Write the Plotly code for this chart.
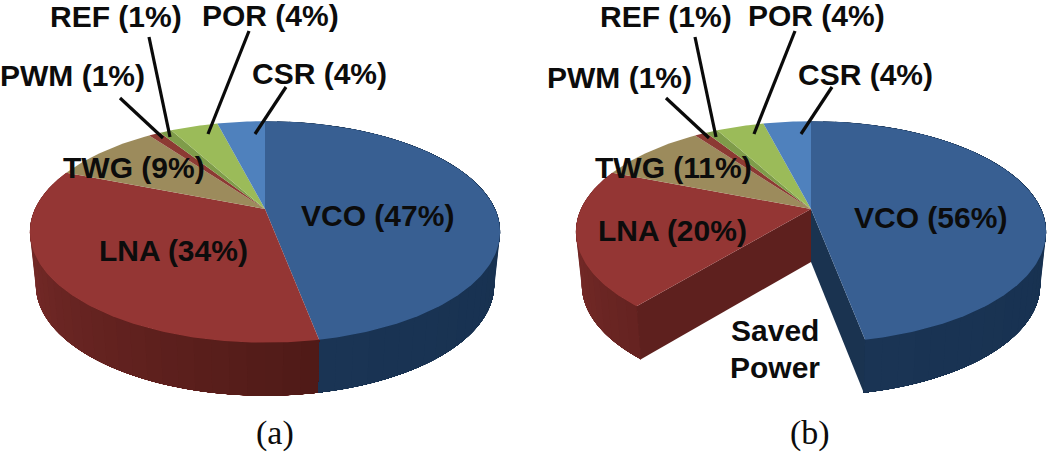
import numpy as np
import plotly.graph_objects as go

# ---- data ----
segments = ["VCO", "LNA", "TWG", "PWM", "REF", "POR", "CSR"]
labels_a = [47, 34, 9, 1, 1, 4, 4]      # printed percentages, panel (a)
labels_b = [56, 20, 11, 1, 1, 4, 4]     # printed percentages, panel (b)
arc_a = [47, 34, 9, 1, 1, 4, 4]         # arc drawn per segment, panel (a)
arc_b = [47, 20, 9, 1, 1, 4, 4]         # arc drawn per segment, panel (b)
saved_b = 14                            # empty wedge after VCO, panel (b)

# ---- style ----
top_colors = ["#385f92", "#943634", "#9c8b5c", "#8c3a33", "#7f9c4a", "#9bbb59", "#4f81bd"]
side_ranges = {"VCO": ("#16304f", "#1a3454"), "LNA": ("#4f1a17", "#7b2c2a")}

CY, SX, SY, K = 209.0, 230.0, 106.0, 0.207
DEPTH, BOTTOM_SX = 53.0, 0.975


def project(cx, pct, bottom=False):
    th = np.radians(np.asarray(pct, float) * 3.6)
    u, v = np.sin(th), np.cos(th)
    w = 1 + K * v
    X, Y = SX * u / w, -SY * v / w
    if bottom:
        return cx + BOTTOM_SX * X, CY + DEPTH + Y
    return cx + X, CY + Y


def hexmix(c0, c1, t):
    a = [int(c0[i:i + 2], 16) for i in (1, 3, 5)]
    b = [int(c1[i:i + 2], 16) for i in (1, 3, 5)]
    return "#%02x%02x%02x" % tuple(round(p + (q - p) * t) for p, q in zip(a, b))


fig = go.Figure()


def poly(xs, ys, color):
    fig.add_trace(go.Scatter(x=list(xs), y=list(ys), mode="lines", fill="toself",
                             fillcolor=color, line=dict(color=color, width=0),
                             hoverinfo="skip", showlegend=False))


def draw_pie(cx, arcs, gap):
    # (start, end) in percent around the pie for every segment
    spans, pos = [], 0.0
    for i, a in enumerate(arcs):
        spans.append((pos, pos + a))
        pos += a
        if i == 0:
            pos += gap
    # cylinder wall of VCO and LNA; every band runs to the end of its segment so
    # that later bands paint over it and no seams appear
    for idx in (0, 1):
        s, e = spans[idx]
        lo, hi = side_ranges[segments[idx]]
        edges = np.linspace(s, e, max(int(e - s), 2) + 1)
        order = edges[:-1] if idx == 0 else edges[:-1][::-1]
        for a0 in order:
            a1 = a0 + (edges[1] - edges[0])
            mid = (a0 + a1) / 2
            if idx == 0:
                t = np.clip((mid - 20) / 27, 0, 1)
                arc = np.linspace(a0, e, 40)
            else:
                t = np.clip((mid - 47) / (75 - 47), 0, 1)
                arc = np.linspace(s, a1, 40)
            tx, ty = project(cx, arc)
            bx, by = project(cx, arc, bottom=True)
            poly(np.r_[tx, bx[::-1]], np.r_[ty, by[::-1]], hexmix(lo, hi, t))
    # cut faces of the saved wedge
    if gap > 0:
        bcx, bcy = cx, CY + DEPTH
        tx, ty = project(cx, spans[0][1])
        bx, by = project(cx, spans[0][1], bottom=True)
        poly([cx, tx, bx, bcx], [CY, ty, by, bcy], "#1a3350")
        tx, ty = project(cx, spans[1][0])
        bx, by = project(cx, spans[1][0], bottom=True)
        poly([cx, tx, bx, bcx], [CY, ty, by, bcy], "#5e201e")
    # top face
    for (s, e), c in zip(spans, top_colors):
        arc = np.linspace(s, e, max(int((e - s) * 4), 4) + 1)
        x, y = project(cx, arc)
        poly(np.r_[cx, x], np.r_[CY, y], c)


CX_A, CX_B = 265.0, 811.0
draw_pie(CX_A, arc_a, 0)
draw_pie(CX_B, arc_b, saved_b)

# leader lines, relative to each pie centre
leaders = {"CSR": ((21, 87), (-10, 134)), "POR": ((-16, 31), (-57, 134)),
           "REF": ((-116, 37), (-95, 137)), "PWM": ((-145, 98), (-102, 138))}
for cx in (CX_A, CX_B):
    for (p0, p1) in leaders.values():
        fig.add_trace(go.Scatter(x=[cx + p0[0], cx + p1[0]], y=[p0[1], p1[1]], mode="lines",
                                 line=dict(color="#0a0a0a", width=3.2),
                                 hoverinfo="skip", showlegend=False))

pos_a = {"VCO": (377, 215), "LNA": (173, 250), "TWG": (134, 167), "PWM": (72, 75),
         "REF": (116, 16), "POR": (270, 15), "CSR": (319, 73)}
pos_b = {"VCO": (930, 217), "LNA": (672, 230), "TWG": (673, 167), "PWM": (619, 77),
         "REF": (666, 16), "POR": (816, 15), "CSR": (865, 74)}
annotations = []


def note(x, y, text, family="Liberation Sans", size=30):
    annotations.append(dict(x=x, y=y, xref="x", yref="y", text=text, showarrow=False,
                            xanchor="center", yanchor="middle",
                            font=dict(family=family, size=size, color="#0c0c0c")))


for name, val_a, val_b in zip(segments, labels_a, labels_b):
    note(*pos_a[name], f"<b>{name} ({val_a}%)</b>")
    note(*pos_b[name], f"<b>{name} ({val_b}%)</b>")
note(775, 330, "<b>Saved</b>")
note(775, 367, "<b>Power</b>")
note(275, 433, "(a)", "Liberation Serif", 34)
note(810, 433, "(b)", "Liberation Serif", 34)

fig.update_layout(width=1050, height=452, margin=dict(l=0, r=0, t=0, b=0),
                  paper_bgcolor="white", plot_bgcolor="white", showlegend=False,
                  annotations=annotations,
                  xaxis=dict(range=[0, 1050], visible=False, fixedrange=True),
                  yaxis=dict(range=[452, 0], visible=False, fixedrange=True))

fig.write_html("out.html", config={"displayModeBar": False},
               post_script="document.body.style.margin='0';document.body.style.overflow='hidden';")
